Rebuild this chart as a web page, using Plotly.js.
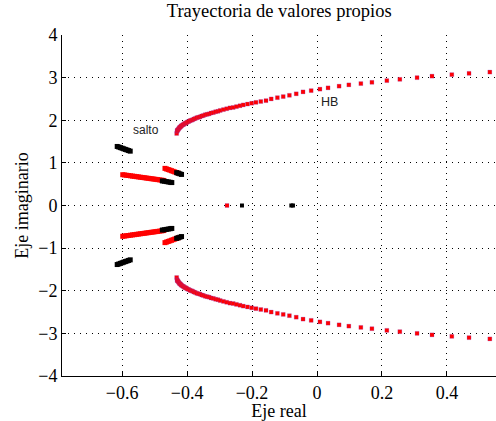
<!DOCTYPE html>
<html>
<head>
<meta charset="utf-8">
<script src="https://cdn.plot.ly/plotly-3.0.1.min.js"></script>
<style>html,body{margin:0;padding:0;background:#fff;}#chart{width:496px;height:421px;}</style>
</head>
<body>
<div id="chart"></div>
<script>
// Upper complex branch; lower branch is its conjugate
const branchX = [-0.432,-0.431,-0.430,-0.429,-0.427,-0.425,-0.423,-0.421,-0.419,-0.417,-0.414,-0.411,-0.408,-0.405,-0.402,-0.399,-0.395,-0.391,-0.387,-0.383,-0.379,-0.375,-0.370,-0.365,-0.360,-0.355,-0.350,-0.344,-0.338,-0.332,-0.326,-0.319,-0.312,-0.305,-0.298,-0.288,-0.278,-0.268,-0.258,-0.248,-0.237,-0.227,-0.214,-0.201,-0.188,-0.173,-0.157,-0.141,-0.122,-0.104,-0.085,-0.064,-0.043,-0.018,0.009,0.034,0.068,0.098,0.135,0.169,0.215,0.255,0.308,0.354,0.415,0.468,0.532];
const branchY = [1.69,1.74,1.76,1.77,1.79,1.81,1.83,1.84,1.86,1.87,1.89,1.90,1.92,1.93,1.94,1.96,1.97,1.99,2.00,2.01,2.03,2.04,2.06,2.07,2.08,2.10,2.11,2.13,2.14,2.15,2.17,2.18,2.20,2.21,2.23,2.25,2.27,2.29,2.30,2.32,2.34,2.36,2.38,2.40,2.42,2.44,2.46,2.50,2.53,2.555,2.585,2.62,2.665,2.695,2.73,2.76,2.80,2.83,2.86,2.89,2.93,2.96,3.00,3.035,3.07,3.10,3.13];

// Red trajectories near the jump (upper half; lower half conjugate)
const redLongX = [-0.598,-0.592,-0.586,-0.580,-0.574,-0.568,-0.562,-0.556,-0.550,-0.544,-0.538,-0.532,-0.526,-0.520,-0.514,-0.508,-0.502,-0.496,-0.490,-0.484,-0.478,-0.472];
const redLongY = [0.722,0.716,0.709,0.703,0.696,0.690,0.684,0.677,0.671,0.664,0.658,0.652,0.645,0.639,0.632,0.626,0.620,0.613,0.607,0.600,0.594,0.588];
const redShortX = [-0.468,-0.463,-0.458,-0.453,-0.448,-0.443,-0.438,-0.433,-0.428];
const redShortY = [0.871,0.857,0.843,0.830,0.816,0.802,0.788,0.774,0.760];

// Black segments ("salto")
const blkA_X = [-0.615,-0.610,-0.605,-0.600,-0.595,-0.590,-0.585,-0.580,-0.575];
const blkA_Y = [1.385,1.371,1.358,1.344,1.330,1.316,1.303,1.289,1.275];
const blkB_X = [-0.476,-0.470,-0.464,-0.458,-0.452,-0.447];
const blkB_Y = [0.576,0.569,0.561,0.553,0.545,0.538];
const blkC_X = [-0.432,-0.427,-0.422,-0.417];
const blkC_Y = [0.770,0.757,0.743,0.729];

// Real eigenvalues
const realRedX = [-0.277];
const realBlackX = [-0.231,-0.079,-0.074];

const xTicks = [-0.6,-0.4,-0.2,0,0.2,0.4];
const xTickText = ['\u22120.6','\u22120.4','\u22120.2','0','0.2','0.4'];
const yTicks = [-4,-3,-2,-1,0,1,2,3,4];
const yTickText = ['\u22124','\u22123','\u22122','\u22121','0','1','2','3','4'];

const neg = a => a.map(v => -v);
const zeros = a => a.map(() => 0);

const redMarker = {color:'#ff0000', size:4, symbol:'square', line:{color:'rgba(130,60,210,0.45)', width:0.5}};
const redDense = {color:'#ff0000', size:5, symbol:'square', line:{width:0}};
const blkMarker = {color:'#000000', size:5, symbol:'square', line:{width:0}};

const redX = [].concat(redLongX, redShortX, redLongX, redShortX);
const redY = [].concat(redLongY, redShortY, neg(redLongY), neg(redShortY));
const blkX = [].concat(blkA_X, blkB_X, blkC_X, blkA_X, blkB_X, blkC_X);
const blkY = [].concat(blkA_Y, blkB_Y, blkC_Y, neg(blkA_Y), neg(blkB_Y), neg(blkC_Y));

const traces = [
  {x: branchX, y: branchY, mode:'markers', type:'scatter', marker: redMarker},
  {x: branchX, y: neg(branchY), mode:'markers', type:'scatter', marker: redMarker},
  {x: redX, y: redY, mode:'markers', type:'scatter', marker: redDense},
  {x: blkX, y: blkY, mode:'markers', type:'scatter', marker: blkMarker},
  {x: realRedX, y: zeros(realRedX), mode:'markers', type:'scatter', marker: {color:'#ff0000', size:4, symbol:'square', line:{color:'rgba(130,60,210,0.45)', width:0.5}}},
  {x: realBlackX, y: zeros(realBlackX), mode:'markers', type:'scatter', marker: {color:'#000', size:4, symbol:'square'}}
];

const serif = 'Liberation Serif, Times New Roman, serif';
const layout = {
  width:496, height:421,
  margin:{l:62, r:0, t:35, b:45},
  paper_bgcolor:'#fff', plot_bgcolor:'#fff',
  showlegend:false,
  title:{text:'Trayectoria de valores propios', font:{family:serif, size:18.5, color:'#000'}, x:0.563, xanchor:'center', y:0.975, yanchor:'middle'},
  xaxis:{
    range:[-0.785, 0.551], tickvals:xTicks, ticktext:xTickText,
    showgrid:true, gridcolor:'#000', gridwidth:1, griddash:'1px,5px',
    zeroline:false, showline:true, linecolor:'#000', linewidth:1,
    ticks:'inside', ticklen:4, tickcolor:'#000',
    tickfont:{family:serif, size:18, color:'#000'},
    title:{text:'Eje real', font:{family:serif, size:18, color:'#000'}, standoff:0}
  },
  yaxis:{
    range:[-4, 4], tickvals:yTicks, ticktext:yTickText,
    showgrid:true, gridcolor:'#000', gridwidth:1, griddash:'1px,5px',
    zeroline:false, showline:true, linecolor:'#000', linewidth:1,
    ticks:'inside', ticklen:4, tickcolor:'#000',
    tickfont:{family:serif, size:18, color:'#000'},
    title:{text:'Eje imaginario', font:{family:serif, size:18, color:'#000'}, standoff:4}
  },
  annotations:[
    {x:-0.526, y:1.76, xref:'x', yref:'y', text:'salto', showarrow:false, font:{family:'Liberation Sans, Arial, sans-serif', size:12, color:'#222'}},
    {x:0.038, y:2.43, xref:'x', yref:'y', text:'HB', showarrow:false, font:{family:'Liberation Sans, Arial, sans-serif', size:12.5, color:'#222'}}
  ]
};

Plotly.newPlot('chart', traces, layout, {staticPlot:true, displayModeBar:false});
</script>
</body>
</html>
